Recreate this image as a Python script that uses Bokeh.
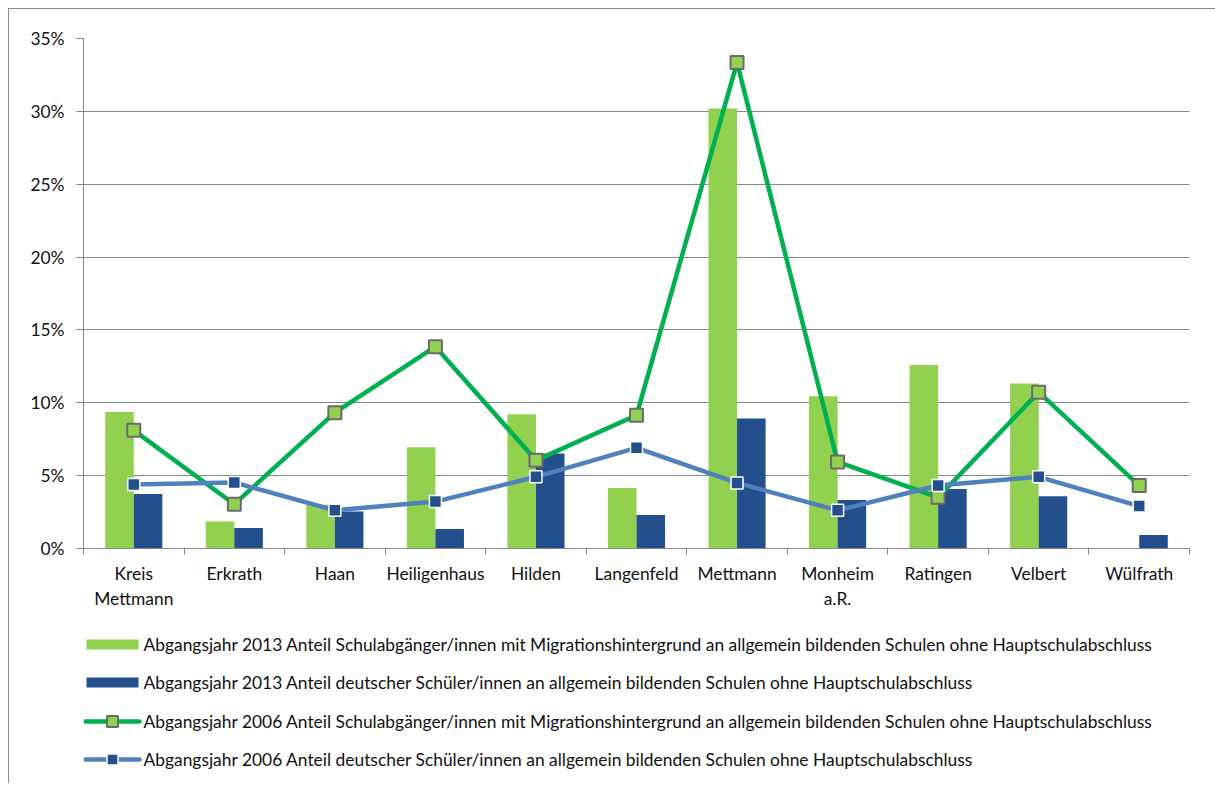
import numpy as np
from bokeh.plotting import figure
from bokeh.layouts import column
from bokeh.models import Range1d, FixedTicker, PrintfTickFormatter
from bokeh.core.properties import value
from bokeh.embed import file_html
from bokeh.resources import INLINE

categories = ["Kreis\nMettmann", "Erkrath", "Haan", "Heiligenhaus", "Hilden", "Langenfeld",
              "Mettmann", "Monheim\na.R.", "Ratingen", "Velbert", "Wülfrath"]
mig_2013 = [9.37, 1.86, 3.0, 6.94, 9.21, 4.16, 30.2, 10.45, 12.59, 11.33, 0.0]
dt_2013 = [3.74, 1.41, 2.54, 1.34, 6.52, 2.30, 8.93, 3.32, 4.08, 3.59, 0.92]
mig_2006 = [8.11, 3.04, 9.32, 13.85, 6.05, 9.14, 33.35, 5.94, 3.51, 10.73, 4.32]
dt_2006 = [4.40, 4.53, 2.62, 3.22, 4.92, 6.91, 4.50, 2.62, 4.32, 4.92, 2.91]
y_ticks = [0, 5, 10, 15, 20, 25, 30, 35]

labels = [
    "Abgangsjahr 2013 Anteil Schulabgänger/innen mit Migrationshintergrund an allgemein bildenden Schulen ohne Hauptschulabschluss",
    "Abgangsjahr 2013 Anteil deutscher Schüler/innen an allgemein bildenden Schulen ohne Hauptschulabschluss",
    "Abgangsjahr 2006 Anteil Schulabgänger/innen mit Migrationshintergrund an allgemein bildenden Schulen ohne Hauptschulabschluss",
    "Abgangsjahr 2006 Anteil deutscher Schüler/innen an allgemein bildenden Schulen ohne Hauptschulabschluss",
]

FONT = "Lato"
FSIZE = "17.4px"
TXT = "#111111"
GRID = "#868686"
C_BAR_G = "#92D050"
C_BAR_B = "#23508C"
C_LINE_G = "#00B050"
C_LINE_B = "#4F81BD"
C_MK_EDGE = "#6b6b6b"

n = len(categories)
xs = np.arange(n)
bw = 0.284

BL, BR = 74, 26  # left / right borders shared by both figures
W = 1206

# ---------------- main chart ----------------
p = figure(width=W, height=611, output_backend="svg", toolbar_location=None,
           x_range=Range1d(-0.5, n - 0.5), y_range=Range1d(0, 35),
           min_border_left=BL, min_border_top=29, min_border_right=BR, min_border_bottom=72)
p.outline_line_color = None
p.background_fill_color = "white"
p.border_fill_color = "white"

p.vbar(x=xs - bw / 2, top=mig_2013, width=bw, fill_color=C_BAR_G, line_color=None)
p.vbar(x=xs + bw / 2, top=dt_2013, width=bw, fill_color=C_BAR_B, line_color=None)

p.line(xs, mig_2006, line_color=C_LINE_G, line_width=4.5)
p.scatter(xs, mig_2006, marker="square", size=13, fill_color=C_BAR_G,
          line_color=C_MK_EDGE, line_width=2)
p.line(xs, dt_2006, line_color=C_LINE_B, line_width=4.5)
p.scatter(xs, dt_2006, marker="square", size=12, fill_color=C_BAR_B,
          line_color="white", line_width=1.5)

p.xgrid.grid_line_color = None
p.ygrid.grid_line_color = GRID
p.ygrid.grid_line_width = 1
p.ygrid.ticker = FixedTicker(ticks=y_ticks)

p.yaxis.ticker = FixedTicker(ticks=y_ticks)
p.yaxis.formatter = PrintfTickFormatter(format="%d%%")
p.yaxis.axis_line_color = GRID
p.yaxis.major_tick_line_color = GRID
p.yaxis.major_tick_in = 0
p.yaxis.major_tick_out = 7
p.yaxis.minor_tick_line_color = None
p.yaxis.major_label_standoff = 12
p.yaxis.major_label_text_font = FONT
p.yaxis.major_label_text_font_size = FSIZE
p.yaxis.major_label_text_color = TXT

p.xaxis.ticker = FixedTicker(ticks=list(xs), minor_ticks=list(np.arange(n + 1) - 0.5))
p.xaxis.major_label_overrides = {int(i): c for i, c in enumerate(categories)}
p.xaxis.axis_line_color = GRID
p.xaxis.major_tick_line_color = None
p.xaxis.major_tick_in = 0
p.xaxis.major_tick_out = 0
p.xaxis.minor_tick_line_color = GRID
p.xaxis.minor_tick_in = 0
p.xaxis.minor_tick_out = 6
p.xaxis.major_label_standoff = 8
p.xaxis.major_label_text_font = FONT
p.xaxis.major_label_text_font_size = FSIZE
p.xaxis.major_label_text_color = TXT

# ---------------- legend strip below (x data unit = 1 px from the chart's left edge) ----------------
LH = 163
q = figure(width=W, height=LH, output_backend="svg", toolbar_location=None,
           x_range=Range1d(BL, W - BR), y_range=Range1d(0, LH),
           min_border_left=BL, min_border_right=BR, min_border_top=0, min_border_bottom=0)
q.axis.visible = False
q.grid.visible = False
q.outline_line_color = None
q.background_fill_color = "white"
q.border_fill_color = "white"

row_y = [139, 101, 62, 24]
q.segment(x0=[77, 77], y0=row_y[:2], x1=[129, 129], y1=row_y[:2],
          line_color=[C_BAR_G, C_BAR_B], line_width=10, line_cap="butt")
q.segment(x0=[76, 76], y0=row_y[2:], x1=[130, 130], y1=row_y[2:],
          line_color=[C_LINE_G, C_LINE_B], line_width=4.5, line_cap="round")
q.scatter(x=[103], y=[row_y[2]], marker="square", size=11, fill_color=C_BAR_G,
          line_color=C_MK_EDGE, line_width=2)
q.scatter(x=[103], y=[row_y[3]], marker="square", size=11, fill_color=C_BAR_B,
          line_color="white", line_width=1.5)
q.text(x=[134] * 4, y=row_y, text=labels, text_font=value(FONT), text_font_size=FSIZE,
       text_color=TXT, text_baseline="middle", text_align="left")

layout = column(p, q, spacing=0)
layout.styles = {"margin-left": "8px", "margin-top": "8px",
                 "border-left": "1px solid #8a8a8a", "border-top": "1px solid #8a8a8a"}

open("out.html", "w").write(file_html(layout, INLINE))
